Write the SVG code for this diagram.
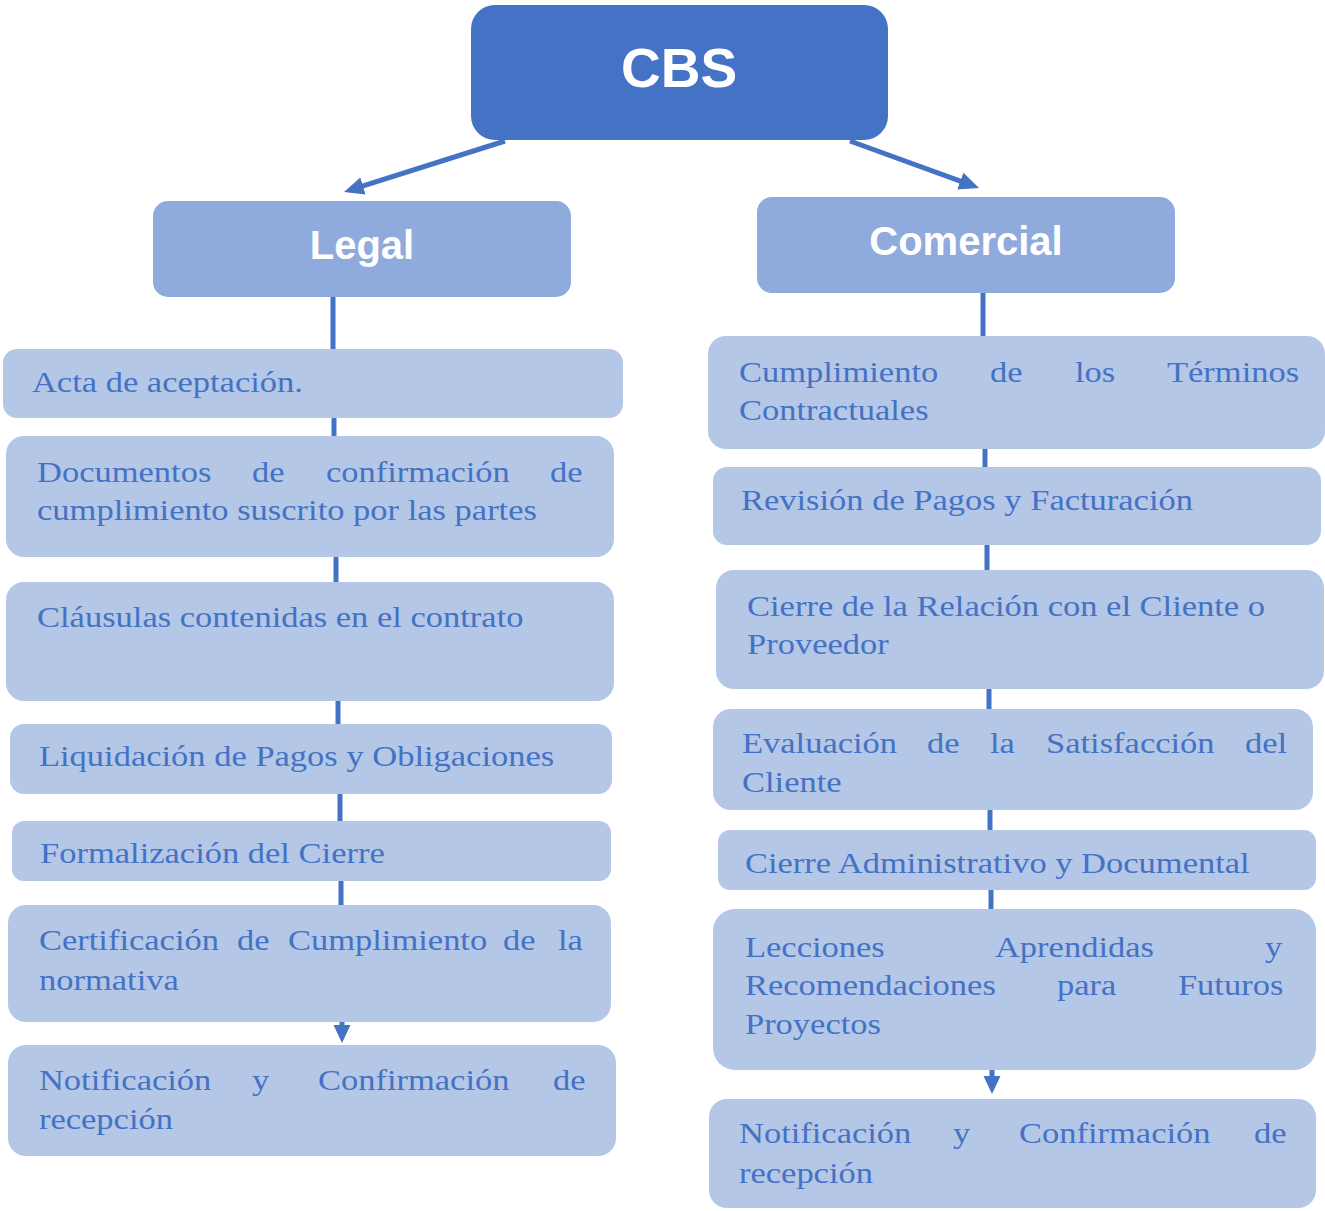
<svg xmlns="http://www.w3.org/2000/svg" width="1325" height="1211" viewBox="0 0 1325 1211">
<defs>
<style>
.top{fill:#4472C4}
.head{fill:#8FAADC}
.box{fill:#B4C7E7}
.conn{stroke:#4472C4;stroke-width:5;fill:none}
.h{font-family:"Liberation Sans",Arial,sans-serif;font-weight:bold;fill:#FFFFFF;text-anchor:middle}
.t{font-family:"Liberation Serif","Times New Roman",serif;font-size:30px;fill:#4472C4}
</style>
<marker id="ahL" markerUnits="userSpaceOnUse" markerWidth="22" markerHeight="20" refX="14" refY="9" orient="auto">
<path d="M0,0 L20,9 L0,18 Z" fill="#4472C4"/>
</marker>
<marker id="ahS" markerUnits="userSpaceOnUse" markerWidth="20" markerHeight="20" refX="12" refY="8.5" orient="auto">
<path d="M0,0 L18,8.5 L0,17 Z" fill="#4472C4"/>
</marker>
</defs>
<rect width="1325" height="1211" fill="#FFFFFF"/>

<g id="connectors">
<line class="conn" x1="505" y1="141" x2="349.7" y2="190.2" marker-end="url(#ahL)"/>
<line class="conn" x1="850" y1="141" x2="973.4" y2="185.9" marker-end="url(#ahL)"/>
<line class="conn" x1="333" y1="296" x2="333" y2="350"/>
<line class="conn" x1="334" y1="417" x2="334" y2="437"/>
<line class="conn" x1="336" y1="556" x2="336" y2="583"/>
<line class="conn" x1="338" y1="700" x2="338" y2="725"/>
<line class="conn" x1="340" y1="793" x2="340" y2="822"/>
<line class="conn" x1="341" y1="880" x2="341" y2="906"/>
<line class="conn" x1="342" y1="1021" x2="342" y2="1037" marker-end="url(#ahS)"/>
<line class="conn" x1="983" y1="292" x2="983" y2="337"/>
<line class="conn" x1="985" y1="448" x2="985" y2="468"/>
<line class="conn" x1="987" y1="544" x2="987" y2="571"/>
<line class="conn" x1="989" y1="688" x2="989" y2="710"/>
<line class="conn" x1="990" y1="809" x2="990" y2="831"/>
<line class="conn" x1="991" y1="889" x2="991" y2="910"/>
<line class="conn" x1="992" y1="1069" x2="992" y2="1088" marker-end="url(#ahS)"/>
</g>

<g id="cbs">
<rect class="top" x="471" y="5" width="417" height="135" rx="24"/>
<text class="h" x="679" y="87" font-size="55">CBS</text>
</g>
<g id="legal">
<rect class="head" x="153" y="201" width="418" height="96" rx="15"/>
<text class="h" x="362" y="259" font-size="40">Legal</text>
</g>
<g id="comercial">
<rect class="head" x="757" y="197" width="418" height="96" rx="15"/>
<text class="h" x="966" y="255" font-size="40">Comercial</text>
</g>

<g id="l1"><rect class="box" x="3" y="349" width="620" height="69" rx="14"/>
<text class="t" transform="scale(1.15,1)" x="27.8" y="392">Acta de aceptación.</text></g>
<g id="l2"><rect class="box" x="6" y="436" width="608" height="121" rx="18"/>
<text class="t" transform="scale(1.15,1)" y="482"><tspan x="32.2">Documentos</tspan><tspan x="219.1">de</tspan><tspan x="283.5">confirmación</tspan><tspan x="478.3">de</tspan></text>
<text class="t" transform="scale(1.15,1)" x="32.2" y="520">cumplimiento suscrito por las partes</text></g>
<g id="l3"><rect class="box" x="6" y="582" width="608" height="119" rx="18"/>
<text class="t" transform="scale(1.15,1)" x="32.2" y="627">Cláusulas contenidas en el contrato</text></g>
<g id="l4"><rect class="box" x="10" y="724" width="602" height="70" rx="14"/>
<text class="t" transform="scale(1.15,1)" x="33.9" y="766">Liquidación de Pagos y Obligaciones</text></g>
<g id="l5"><rect class="box" x="12" y="821" width="599" height="60" rx="12"/>
<text class="t" transform="scale(1.15,1)" x="34.8" y="863">Formalización del Cierre</text></g>
<g id="l6"><rect class="box" x="8" y="905" width="603" height="117" rx="18"/>
<text class="t" transform="scale(1.15,1)" y="950"><tspan x="33.9">Certificación</tspan><tspan x="206.1">de</tspan><tspan x="250.4">Cumplimiento</tspan><tspan x="437.4">de</tspan><tspan x="485.2">la</tspan></text>
<text class="t" transform="scale(1.15,1)" x="33.9" y="990">normativa</text></g>
<g id="l7"><rect class="box" x="8" y="1045" width="608" height="111" rx="18"/>
<text class="t" transform="scale(1.15,1)" y="1090"><tspan x="33.9">Notificación</tspan><tspan x="219.1">y</tspan><tspan x="276.5">Confirmación</tspan><tspan x="480.9">de</tspan></text>
<text class="t" transform="scale(1.15,1)" x="33.9" y="1129">recepción</text></g>

<g id="r1"><rect class="box" x="708" y="336" width="617" height="113" rx="18"/>
<text class="t" transform="scale(1.15,1)" y="382"><tspan x="642.6">Cumplimiento</tspan><tspan x="860.9">de</tspan><tspan x="934.8">los</tspan><tspan x="1014.8">Términos</tspan></text>
<text class="t" transform="scale(1.15,1)" x="642.6" y="420">Contractuales</text></g>
<g id="r2"><rect class="box" x="713" y="467" width="608" height="78" rx="14"/>
<text class="t" transform="scale(1.15,1)" x="644.3" y="510">Revisión de Pagos y Facturación</text></g>
<g id="r3"><rect class="box" x="716" y="570" width="608" height="119" rx="18"/>
<text class="t" transform="scale(1.15,1)" x="649.6" y="616">Cierre de la Relación con el Cliente o</text>
<text class="t" transform="scale(1.15,1)" x="649.6" y="654">Proveedor</text></g>
<g id="r4"><rect class="box" x="713" y="709" width="600" height="101" rx="18"/>
<text class="t" transform="scale(1.15,1)" y="753"><tspan x="645.2">Evaluación</tspan><tspan x="806.1">de</tspan><tspan x="860.9">la</tspan><tspan x="909.6">Satisfacción</tspan><tspan x="1082.6">del</tspan></text>
<text class="t" transform="scale(1.15,1)" x="645.2" y="792">Cliente</text></g>
<g id="r5"><rect class="box" x="718" y="830" width="598" height="60" rx="12"/>
<text class="t" transform="scale(1.15,1)" x="647.8" y="873">Cierre Administrativo y Documental</text></g>
<g id="r6"><rect class="box" x="713" y="909" width="603" height="161" rx="22"/>
<text class="t" transform="scale(1.15,1)" y="957"><tspan x="647.8">Lecciones</tspan><tspan x="865.2">Aprendidas</tspan><tspan x="1100">y</tspan></text>
<text class="t" transform="scale(1.15,1)" y="995"><tspan x="647.8">Recomendaciones</tspan><tspan x="919.1">para</tspan><tspan x="1024.3">Futuros</tspan></text>
<text class="t" transform="scale(1.15,1)" x="647.8" y="1034">Proyectos</text></g>
<g id="r7"><rect class="box" x="709" y="1099" width="607" height="109" rx="18"/>
<text class="t" transform="scale(1.15,1)" y="1143"><tspan x="642.6">Notificación</tspan><tspan x="828.7">y</tspan><tspan x="886.1">Confirmación</tspan><tspan x="1090.4">de</tspan></text>
<text class="t" transform="scale(1.15,1)" x="642.6" y="1183">recepción</text></g>
</svg>
